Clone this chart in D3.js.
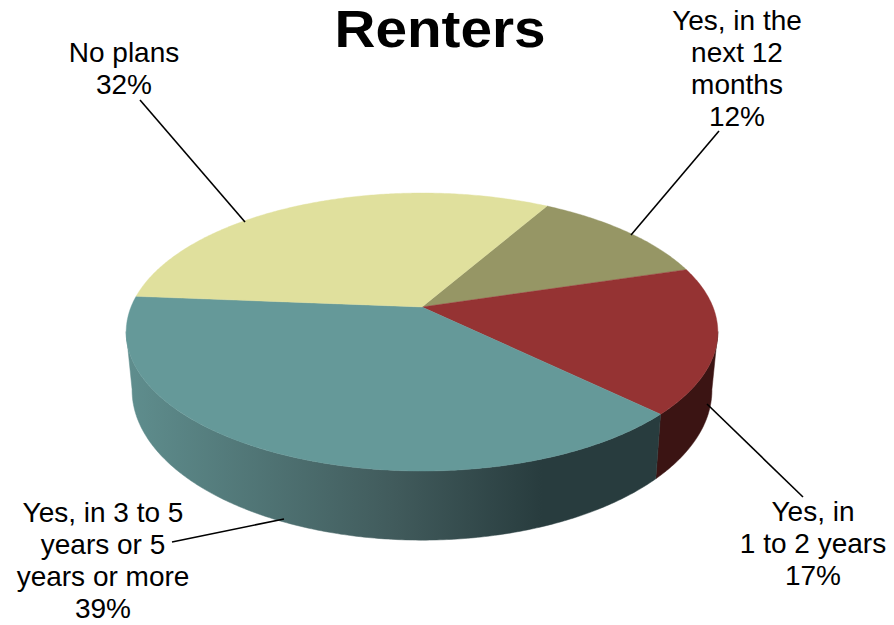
<!DOCTYPE html>
<html><head><meta charset="utf-8">
<script src="https://cdnjs.cloudflare.com/ajax/libs/d3/7.8.5/d3.min.js"></script>
<style>html,body{margin:0;padding:0;background:#fff}svg{display:block}text{font-family:"Liberation Sans",Arial,sans-serif;fill:#000}</style>
</head><body><svg id="c" width="894" height="625"></svg>
<script>
const title = "Renters";
const categories = ["Yes, in the next 12 months","Yes, in 1 to 2 years","Yes, in 3 to 5 years or 5 years or more","No plans"];
const values = [12,17,39,32];
const labelLines = [["Yes, in the","next 12","months","12%"],["Yes, in","1 to 2 years","17%"],["Yes, in 3 to 5","years or 5","years or more","39%"],["No plans","32%"]];
const topColors = ["#969665","#953333","#659999","#e0e09d"];
const sideStops = [[["0%","#3b1413"],["100%","#3b1413"]],[["0%","#3b1413"],["100%","#3b1413"]],[["0%","#5f8e8e"],["50%","#415b5c"],["78%","#283c3e"],["100%","#283c3e"]],[["0%","#8a8a60"],["100%","#8a8a60"]]];
const labelX = [737,813,103,124];
const labelY = [30,521,522,62];
const leaders = [[[719,131],[631,235]],[[803,497],[707,404]],[[172,542],[284,519]],[[140,100],[245,222]]];

const svg = d3.select("#c");
const cx=422, cy=307, B=291, A=134.5, k=0.18;
const startDeg=29.8;
const pie=d3.pie().sort(null).startAngle(startDeg*Math.PI/180).endAngle((startDeg+360)*Math.PI/180);
const arcs=pie(values);
function topPt(a){const u=Math.sin(a),v=-Math.cos(a),w=1-k*v;return [cx+B*u/w,cy+A*v/w];}
const sx=0.98, sy=1.08, ecy=332, ecyB=390;
function botPt(a){const p=topPt(a);return [cx+(p[0]-cx)*sx, ecyB+(p[1]-ecy)*sy];}
function range(a0,a1){const n=Math.max(2,Math.ceil((a1-a0)/0.01));return d3.range(n+1).map(i=>a0+(a1-a0)*i/n);}
const line=d3.line();
const defs=svg.append("defs");
const [xl,xr]=[126,660];
sideStops.forEach((st,i)=>{
  const g=defs.append("linearGradient").attr("id","side"+i).attr("gradientUnits","userSpaceOnUse")
    .attr("x1",xl).attr("x2",xr).attr("y1",0).attr("y2",0);
  st.forEach(d=>g.append("stop").attr("offset",d[0]).attr("stop-color",d[1]));
});
// visible rim runs between the two silhouette angles (extreme x of the projected circle)
const sweep=range(0,2*Math.PI);
const visA=d3.greatest(sweep,a=>topPt(a)[0]), visB=d3.least(sweep,a=>topPt(a)[0]);
arcs.forEach((d,i)=>{
  for(const off of [0,2*Math.PI]){
    const a0=Math.max(d.startAngle-off,visA), a1=Math.min(d.endAngle-off,visB);
    if(a1>a0){
      const r=range(a0,a1);
      svg.append("path").attr("d",line(r.map(topPt).concat(r.slice().reverse().map(botPt)))+"Z")
        .attr("fill",`url(#side${i})`).attr("stroke",`url(#side${i})`).attr("stroke-width",0.5);
    }
  }
});
arcs.forEach((d,i)=>{
  const pts=[[cx,cy]].concat(range(d.startAngle,d.endAngle).map(topPt));
  svg.append("path").attr("d",line(pts)+"Z").attr("fill",topColors[i]).attr("stroke",topColors[i]).attr("stroke-width",0.4);
});
leaders.forEach(l=>svg.append("path").attr("d",line(l)).attr("fill","none").attr("stroke","#000").attr("stroke-width",1.6));
svg.append("text").attr("x",440).attr("y",47).attr("text-anchor","middle").attr("font-size",51).attr("font-weight","bold")
  .attr("textLength",211).attr("lengthAdjust","spacingAndGlyphs").text(title);
labelLines.forEach((ls,i)=>{
  const t=svg.append("text").attr("text-anchor","middle").attr("font-size",28);
  ls.forEach((s,j)=>t.append("tspan").attr("x",labelX[i]).attr("y",labelY[i]+j*32).text(s));
});
</script></body></html>
